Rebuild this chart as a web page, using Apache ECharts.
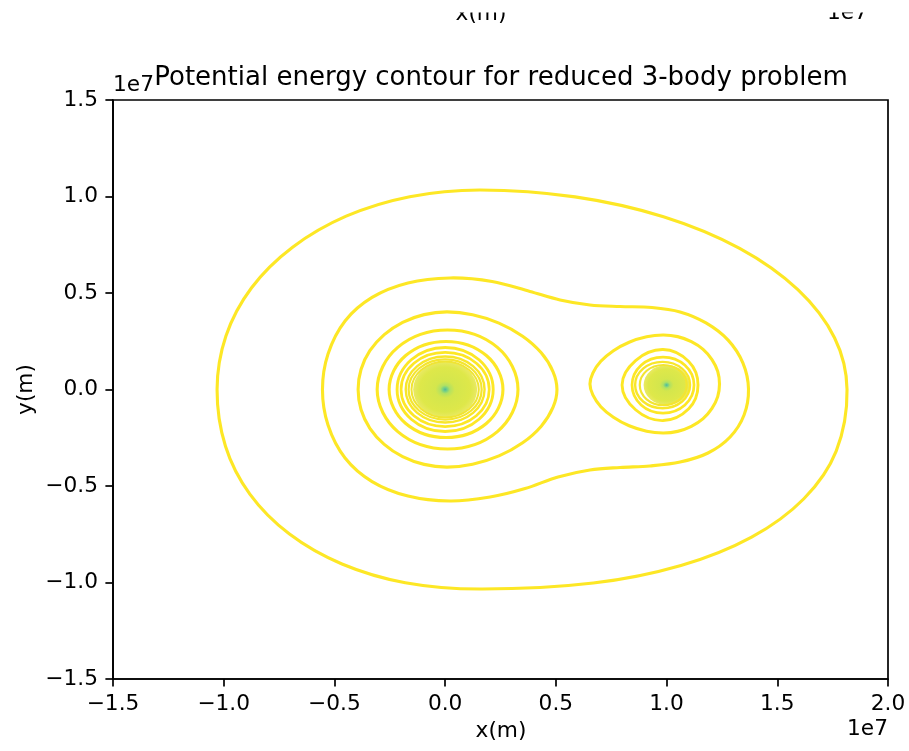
<!DOCTYPE html>
<html>
<head>
<meta charset="utf-8">
<script src="https://cdn.jsdelivr.net/npm/echarts@6/dist/echarts.min.js"></script>
<style>
  html, body { margin: 0; padding: 0; background: #ffffff; }
  #chart { width: 909px; height: 751px; }
</style>
</head>
<body>
<div id="chart"></div>
<script>
// All coordinates are in units of 1e7 m (axis offset text "1e7").
const xTicks = [-1.5, -1.0, -0.5, 0.0, 0.5, 1.0, 1.5, 2.0];
const yTicks = [-1.5, -1.0, -0.5, 0.0, 0.5, 1.0, 1.5];

// Body positions (centres of the dense contour cores)
const bodies = [[0.0, 0.0], [1.0, 0.023]];

// Outer contour enclosing both bodies
const contourOuter = [
  [-1.030, 0.000], [-0.990, 0.277], [-0.875, 0.526], [-0.689, 0.737], [-0.447, 0.898],
  [-0.160, 0.999], [0.158, 1.034], [0.587, 0.998], [0.986, 0.895], [1.330, 0.731],
  [1.593, 0.517], [1.759, 0.267], [1.815, 0.000], [1.766, -0.319], [1.620, -0.566],
  [1.384, -0.765], [1.065, -0.912], [0.669, -1.003], [0.158, -1.034], [-0.180, -1.001],
  [-0.466, -0.904], [-0.703, -0.749], [-0.882, -0.542], [-0.992, -0.294]
];

// Peanut-shaped contour around both bodies
const contourPeanut = [
  [-0.554, 0.000], [-0.529, 0.184], [-0.452, 0.355], [-0.330, 0.477], [-0.168, 0.552],
  [0.022, 0.578], [0.212, 0.560], [0.383, 0.508], [0.519, 0.464], [0.654, 0.438],
  [0.790, 0.430], [0.934, 0.425], [1.061, 0.402], [1.178, 0.345], [1.278, 0.256],
  [1.345, 0.137], [1.370, 0.003], [1.350, -0.132], [1.287, -0.246], [1.187, -0.329],
  [1.061, -0.376], [0.925, -0.396], [0.790, -0.404], [0.654, -0.417], [0.510, -0.453],
  [0.361, -0.513], [0.203, -0.557], [0.022, -0.578], [-0.168, -0.552], [-0.330, -0.477],
  [-0.452, -0.355], [-0.529, -0.184]
];

// Contours around the main body (outermost first)
const mainC = [
  [-0.393, 0.000], [-0.380, 0.104], [-0.340, 0.201], [-0.275, 0.284], [-0.192, 0.348],
  [-0.095, 0.388], [0.009, 0.402], [0.124, 0.387], [0.243, 0.344], [0.350, 0.276],
  [0.434, 0.190], [0.487, 0.093], [0.505, 0.000], [0.487, -0.093], [0.434, -0.190],
  [0.350, -0.276], [0.243, -0.344], [0.124, -0.387], [0.009, -0.402], [-0.095, -0.388],
  [-0.192, -0.348], [-0.275, -0.284], [-0.340, -0.201], [-0.380, -0.104]
];
const mainD = [[-0.307, 0.0], [-0.214, 0.218], [0.011, 0.308], [0.236, 0.218], [0.329, 0.0], [0.236, -0.218], [0.011, -0.308], [-0.214, -0.218]];
const mainE = [[-0.253, 0.0], [-0.178, 0.176], [0.004, 0.249], [0.186, 0.176], [0.261, 0.0], [0.186, -0.176], [0.004, -0.249], [-0.178, -0.176]];
const mainF = [[-0.217, 0.0], [-0.153, 0.154], [0.0, 0.218], [0.153, 0.154], [0.217, 0.0], [0.153, -0.154], [0.0, -0.218], [-0.153, -0.154]];
const mainG = [[-0.199, 0.0], [-0.141, 0.136], [0.0, 0.192], [0.141, 0.136], [0.199, 0.0], [0.141, -0.136], [0.0, -0.192], [-0.141, -0.136]];
const mainH = [[-0.178, 0.0], [-0.126, 0.121], [0.0, 0.171], [0.126, 0.121], [0.178, 0.0], [0.126, -0.121], [0.0, -0.171], [-0.126, -0.121]];
const mainI = [[-0.165, 0.0], [-0.117, 0.110], [0.0, 0.156], [0.117, 0.110], [0.165, 0.0], [0.117, -0.110], [0.0, -0.156], [-0.117, -0.110]];
const mainJ = [[-0.152, 0.0], [-0.107, 0.102], [0.0, 0.145], [0.107, 0.102], [0.152, 0.0], [0.107, -0.102], [0.0, -0.145], [-0.107, -0.102]];

// Contours around the secondary body (outermost first)
const moonS1 = [
  [0.654, 0.028], [0.667, 0.085], [0.703, 0.146], [0.760, 0.201], [0.831, 0.245],
  [0.910, 0.273], [0.984, 0.282], [1.050, 0.274], [1.112, 0.248], [1.165, 0.208],
  [1.205, 0.155], [1.231, 0.094], [1.239, 0.028], [1.231, -0.037], [1.205, -0.098],
  [1.165, -0.151], [1.112, -0.191], [1.050, -0.217], [0.984, -0.225], [0.910, -0.216],
  [0.831, -0.188], [0.760, -0.144], [0.703, -0.089], [0.667, -0.028]
];
const moonS2 = [[0.799, 0.023], [0.860, 0.150], [0.984, 0.207], [1.100, 0.145], [1.142, 0.023], [1.100, -0.100], [0.984, -0.161], [0.860, -0.105]];
const moonS3 = [[0.844, 0.023], [0.885, 0.126], [0.984, 0.168], [1.083, 0.126], [1.124, 0.023], [1.083, -0.080], [0.984, -0.122], [0.885, -0.080]];
const moonS4 = [[0.858, 0.023], [0.894, 0.108], [0.982, 0.143], [1.070, 0.108], [1.106, 0.023], [1.070, -0.062], [0.982, -0.097], [0.894, -0.062]];
const moonS5 = [[0.879, 0.023], [0.910, 0.097], [0.985, 0.127], [1.060, 0.097], [1.091, 0.023], [1.060, -0.051], [0.985, -0.081], [0.910, -0.051]];

const YELLOW = '#fde725';
const FONT = 'DejaVu Sans';

function loopSeries(name, pts, color, width, smooth) {
  return {
    type: 'custom',
    name: name,
    coordinateSystem: 'cartesian2d',
    data: pts,
    encode: { x: 0, y: 1 },
    silent: true,
    z: 3,
    renderItem: function (params, api) {
      if (params.dataIndex !== 0) return null;
      return {
        type: 'polygon',
        shape: { points: pts.map(function (p) { return api.coord(p); }), smooth: smooth },
        style: { fill: 'none', stroke: color, lineWidth: width }
      };
    }
  };
}

function coreGradient() {
  return {
    type: 'radial', x: 0.5, y: 0.5, r: 0.5,
    colorStops: [
      { offset: 0.0, color: '#26a185' },
      { offset: 0.06, color: '#4ec36b' },
      { offset: 0.15, color: '#9fda3a' },
      { offset: 0.3, color: '#c9e020' },
      { offset: 0.8, color: '#d6e21c' },
      { offset: 1.0, color: '#e4e43c' }
    ]
  };
}

function fmt(v) {
  const s = Math.abs(v).toFixed(1);
  return v < 0 ? '\u2212' + s : s;
}

const axisCommon = {
  type: 'value',
  axisLine: { show: true, onZero: false, lineStyle: { color: '#000', width: 1.7 } },
  axisTick: { show: true, inside: false, length: 7.6, lineStyle: { color: '#000', width: 1.7 } },
  splitLine: { show: false },
  axisLabel: { fontSize: 21.7, color: '#000', fontFamily: FONT, formatter: fmt }
};

const chart = echarts.init(document.getElementById('chart'), null, { renderer: 'canvas' });

const LW = 3.1;
const SM_DENSE = 0.34;
const SM_RING = 0.375;
const series = [
  {
    type: 'scatter',
    name: 'main core',
    data: [bodies[0]],
    symbol: 'circle',
    symbolSize: [64, 56],
    itemStyle: { color: coreGradient() },
    silent: true,
    z: 2
  },
  {
    type: 'scatter',
    name: 'moon core',
    data: [bodies[1]],
    symbol: 'circle',
    symbolSize: [46, 40],
    itemStyle: { color: coreGradient() },
    silent: true,
    z: 2
  },
  loopSeries('outer', contourOuter, YELLOW, LW, SM_DENSE),
  loopSeries('peanut', contourPeanut, YELLOW, LW, SM_DENSE),
  loopSeries('mainC', mainC, YELLOW, LW, SM_DENSE),
  loopSeries('mainD', mainD, YELLOW, LW, SM_RING),
  loopSeries('mainE', mainE, YELLOW, LW, SM_RING),
  loopSeries('mainF', mainF, YELLOW, 2.9, SM_RING),
  loopSeries('mainG', mainG, YELLOW, 2.7, SM_RING),
  loopSeries('mainH', mainH, '#f8e62a', 2.4, SM_RING),
  loopSeries('mainI', mainI, '#f4e530', 2.2, SM_RING),
  loopSeries('mainJ', mainJ, '#efe434', 2.0, SM_RING),
  loopSeries('moonS1', moonS1, YELLOW, LW, SM_DENSE),
  loopSeries('moonS2', moonS2, YELLOW, 2.9, SM_RING),
  loopSeries('moonS3', moonS3, YELLOW, 2.7, SM_RING),
  loopSeries('moonS4', moonS4, '#f8e62a', 2.4, SM_RING),
  loopSeries('moonS5', moonS5, '#f2e532', 2.2, SM_RING)
];

const option = {
  animation: false,
  backgroundColor: '#ffffff',
  title: {
    text: 'Potential energy contour for reduced 3-body problem',
    left: 501,
    top: 65,
    padding: 0,
    textAlign: 'center',
    textVerticalAlign: 'top',
    textStyle: { fontFamily: FONT, fontSize: 26, fontWeight: 'normal', color: '#000', lineHeight: 26 }
  },
  grid: {
    left: 113, right: 21, top: 100, bottom: 72,
    show: true, borderColor: '#000', borderWidth: 1.7, backgroundColor: 'transparent'
  },
  xAxis: Object.assign({}, axisCommon, {
    min: xTicks[0], max: xTicks[xTicks.length - 1], interval: 0.5,
    axisLabel: Object.assign({}, axisCommon.axisLabel, { margin: 14 })
  }),
  yAxis: Object.assign({}, axisCommon, {
    min: yTicks[0], max: yTicks[yTicks.length - 1], interval: 0.5,
    axisLabel: Object.assign({}, axisCommon.axisLabel, { margin: 15 })
  }),
  series: series,
  graphic: [
    { type: 'text', x: 113, y: 85.5, style: { text: '1e7', font: '21.7px "DejaVu Sans"', fill: '#000', align: 'left', verticalAlign: 'middle' } },
    { type: 'text', x: 888, y: 729.5, style: { text: '1e7', font: '21.7px "DejaVu Sans"', fill: '#000', align: 'right', verticalAlign: 'middle' } },
    { type: 'text', x: 501, y: 731.5, style: { text: 'x(m)', font: '21.7px "DejaVu Sans"', fill: '#000', align: 'center', verticalAlign: 'middle' } },
    { type: 'text', x: 26, y: 389.5, rotation: Math.PI / 2, style: { text: 'y(m)', font: '21.7px "DejaVu Sans"', fill: '#000', align: 'center', verticalAlign: 'middle' } },
    // Remnants of a previous figure cut off at the top edge
    { type: 'text', x: 481, y: 14.5, style: { text: 'x(m)', font: '21.7px "DejaVu Sans"', fill: '#000', align: 'center', verticalAlign: 'middle' } },
    { type: 'text', x: 868, y: 13.5, style: { text: '1e7', font: '21.7px "DejaVu Sans"', fill: '#000', align: 'right', verticalAlign: 'middle' } },
    { type: 'rect', x: 0, y: 0, z: 100, shape: { x: 0, y: 0, width: 909, height: 12.5 }, style: { fill: '#ffffff' } }
  ]
};

chart.setOption(option);
</script>
</body>
</html>
